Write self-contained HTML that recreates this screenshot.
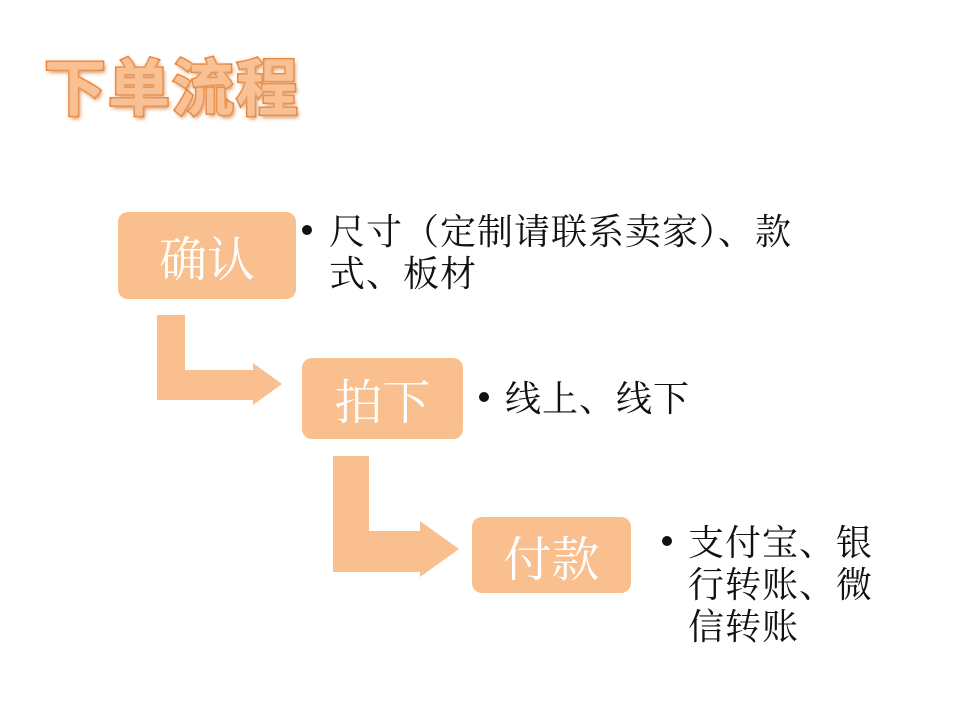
<!DOCTYPE html>
<html><head><meta charset="utf-8"><style>
html,body{margin:0;padding:0;background:#fff;}
body{width:960px;height:720px;position:relative;overflow:hidden;}
.t{position:absolute;font-family:"Noto Serif CJK SC","Liberation Serif",serif;font-size:36px;line-height:42px;color:#111;white-space:nowrap;letter-spacing:1px;}
.box{position:absolute;background:#f9bf8e;border-radius:10px;color:#fff;font-family:"Noto Serif CJK SC","Liberation Serif",serif;font-size:48px;display:flex;align-items:center;justify-content:center;}
.title{position:absolute;left:44px;top:50px;font-family:"Liberation Sans","Noto Sans CJK SC",sans-serif;font-size:62px;font-weight:bold;color:#f9c193;letter-spacing:2px;-webkit-text-stroke:3px #e8782a;paint-order:stroke fill;text-shadow:0 0 4px #f4b07a,2px 3px 4px #d98a50;line-height:80px;}
.dot{position:absolute;width:10px;height:10px;border-radius:50%;background:#111;}
</style></head><body>
<div class="title">下单流程</div>
<svg width="960" height="720" style="position:absolute;left:0;top:0">
<polygon fill="#f9bf8e" points="157,315 185,315 185,370 253,370 253,363 282,384 253,405 253,400 157,400"/>
<polygon fill="#f9bf8e" points="333,456 369,456 369,531 420,531 420,521 459,549 420,577 420,572 333,572"/>
</svg>
<div class="box" style="left:118px;top:212px;width:178px;height:87px">确认</div>
<div class="box" style="left:302px;top:358px;width:161px;height:81px">拍下</div>
<div class="box" style="left:472px;top:517px;width:159px;height:76px">付款</div>
<div class="dot" style="left:302px;top:225px"></div>
<div class="t" style="left:329px;top:209px">尺寸（定制请联系卖家）、款<br>式、板材</div>
<div class="dot" style="left:479px;top:392px"></div>
<div class="t" style="left:505px;top:376px">线上、线下</div>
<div class="dot" style="left:662px;top:536px"></div>
<div class="t" style="left:688px;top:520px">支付宝、银<br>行转账、微<br>信转账</div>
</body></html>
